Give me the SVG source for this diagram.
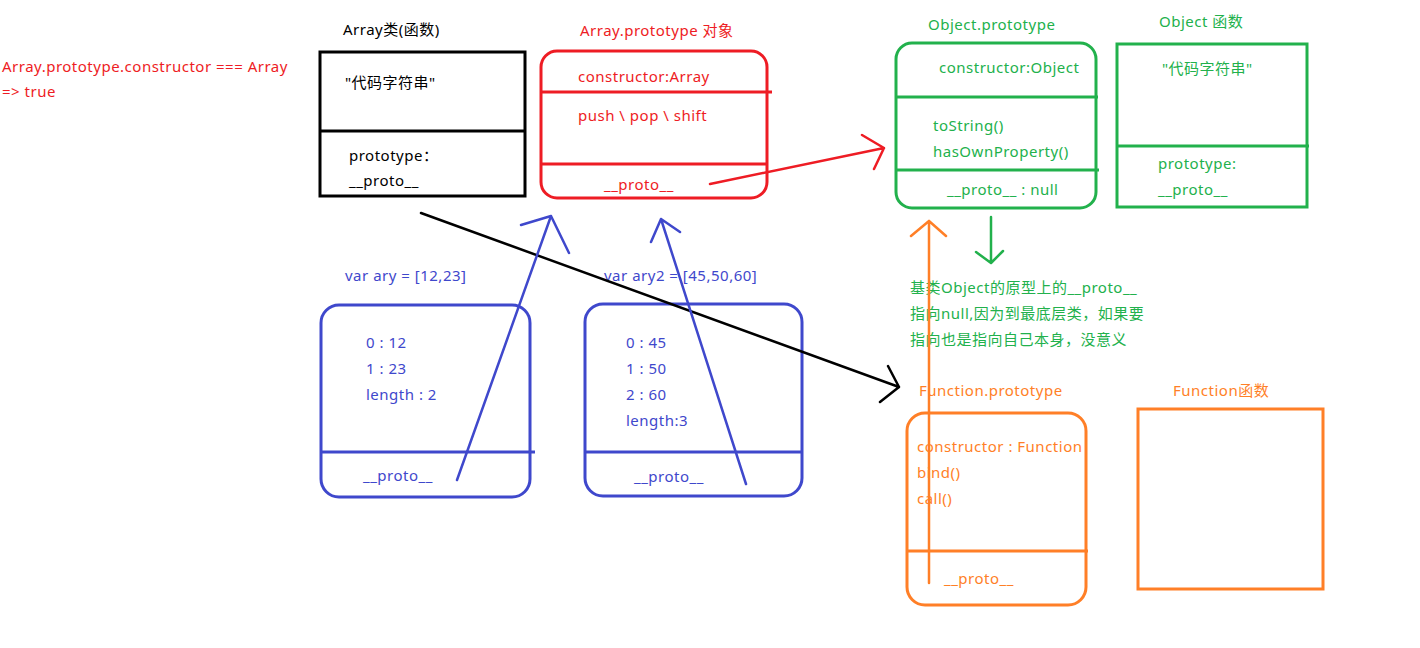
<svg xmlns="http://www.w3.org/2000/svg" width="1420" height="648" viewBox="0 0 1420 648">
<style>
text{font-family:"Noto Sans","Noto Sans CJK SC",sans-serif;font-size:15px;letter-spacing:0.5px}
.k{fill:#000}.r{fill:#ee1c24}.g{fill:#22b14c}.b{fill:#3f48cc}.o{fill:#ff7f27}
.box{fill:none;stroke-width:3}
.ln{fill:none;stroke-width:2.5;stroke-linecap:round;stroke-linejoin:round}
</style>
<rect width="1420" height="648" fill="#fff"/>
<g id="note">
<text class="r" x="2" y="72">Array.prototype.constructor === Array</text>
<text class="r" x="2" y="97">=&gt; true</text>
</g>
<g id="array-fn">
<text class="k" x="343" y="35">Array类(函数)</text>
<rect class="box" x="320" y="52" width="205" height="144" stroke="#000"/>
<line x1="320" y1="131" x2="525" y2="131" stroke="#000" stroke-width="3"/>
<text class="k" x="345" y="88">"代码字符串"</text>
<text class="k" x="349" y="161">prototype：</text>
<text class="k" x="349" y="186">__proto__</text>
</g>
<g id="array-proto">
<text class="r" x="580" y="36">Array.prototype  对象</text>
<rect class="box" x="541" y="51" width="226" height="147" rx="16" stroke="#ee1c24"/>
<line x1="541" y1="92" x2="772" y2="92" stroke="#ee1c24" stroke-width="3"/>
<line x1="541" y1="164" x2="768" y2="164" stroke="#ee1c24" stroke-width="3"/>
<text class="r" x="578" y="82">constructor:Array</text>
<text class="r" x="578" y="121">push \ pop \ shift</text>
<text class="r" x="604" y="190">__proto__</text>
</g>
<g id="object-proto">
<text class="g" x="928" y="30">Object.prototype</text>
<rect class="box" x="896" y="43" width="200" height="165" rx="16" stroke="#22b14c"/>
<line x1="896" y1="97" x2="1098" y2="97" stroke="#22b14c" stroke-width="3"/>
<line x1="896" y1="170" x2="1099" y2="170" stroke="#22b14c" stroke-width="3"/>
<text class="g" x="939" y="73">constructor:Object</text>
<text class="g" x="933" y="131">toString()</text>
<text class="g" x="933" y="157">hasOwnProperty()</text>
<text class="g" x="947" y="195">__proto__ : null</text>
</g>
<g id="object-fn">
<text class="g" x="1159" y="27">Object 函数</text>
<rect class="box" x="1117" y="44" width="190" height="163" stroke="#22b14c"/>
<line x1="1117" y1="146" x2="1309" y2="146" stroke="#22b14c" stroke-width="3"/>
<text class="g" x="1162" y="74">"代码字符串"</text>
<text class="g" x="1158" y="169">prototype:</text>
<text class="g" x="1158" y="195">__proto__</text>
</g>
<g id="note-null">
<text class="g" x="910" y="293" font-size="14">基类Object的原型上的__proto__</text>
<text class="g" x="910" y="319" font-size="14">指向null,因为到最底层类，如果要</text>
<text class="g" x="910" y="345" font-size="14">指向也是指向自己本身，没意义</text>
</g>
<g id="ary">
<text class="b" x="345" y="281">var ary = [12,23]</text>
<rect class="box" x="321" y="305" width="209" height="192" rx="18" stroke="#3f48cc"/>
<line x1="321" y1="452" x2="535" y2="452" stroke="#3f48cc" stroke-width="3"/>
<text class="b" x="366" y="348">0 : 12</text>
<text class="b" x="366" y="374">1 : 23</text>
<text class="b" x="366" y="400">length : 2</text>
<text class="b" x="363" y="481">__proto__</text>
</g>
<g id="ary2">
<text class="b" x="604" y="281">var ary2 = [45,50,60]</text>
<rect class="box" x="585" y="304" width="217" height="192" rx="18" stroke="#3f48cc"/>
<line x1="585" y1="452" x2="802" y2="452" stroke="#3f48cc" stroke-width="3"/>
<text class="b" x="626" y="348">0 : 45</text>
<text class="b" x="626" y="374">1 : 50</text>
<text class="b" x="626" y="400">2 : 60</text>
<text class="b" x="626" y="426">length:3</text>
<text class="b" x="634" y="482">__proto__</text>
</g>
<g id="function-proto">
<text class="o" x="919" y="396">Function.prototype</text>
<rect class="box" x="907" y="413" width="179" height="192" rx="18" stroke="#ff7f27"/>
<line x1="907" y1="551" x2="1088" y2="551" stroke="#ff7f27" stroke-width="3"/>
<text class="o" x="917" y="452">constructor : Function</text>
<text class="o" x="917" y="478">bind()</text>
<text class="o" x="917" y="504">call()</text>
<text class="o" x="944" y="584">__proto__</text>
</g>
<g id="function-fn">
<text class="o" x="1173" y="396">Function函数</text>
<rect class="box" x="1138" y="409" width="185" height="180" stroke="#ff7f27"/>
</g>
<g id="connectors">
<path class="ln" stroke="#ee1c24" d="M710 184 L884 148 M862 135 L884 148 L874 169"/>
<path class="ln" stroke="#000" d="M421 213 L899 387 M888 366 L899 387 L880 402"/>
<path class="ln" stroke="#3f48cc" d="M457 480 L551 216 M521 225 L551 216 L569 253"/>
<path class="ln" stroke="#3f48cc" d="M746 484 L661 219 M651 242 L661 219 L680 232"/>
<path class="ln" stroke="#ff7f27" stroke-width="3" d="M929 583 L929 221 M911 236 L929 221 L946 236"/>
<path class="ln" stroke="#22b14c" stroke-width="3" d="M991 217 L991 262 M976 252 L991 263 L1003 251"/>
</g>
</svg>
